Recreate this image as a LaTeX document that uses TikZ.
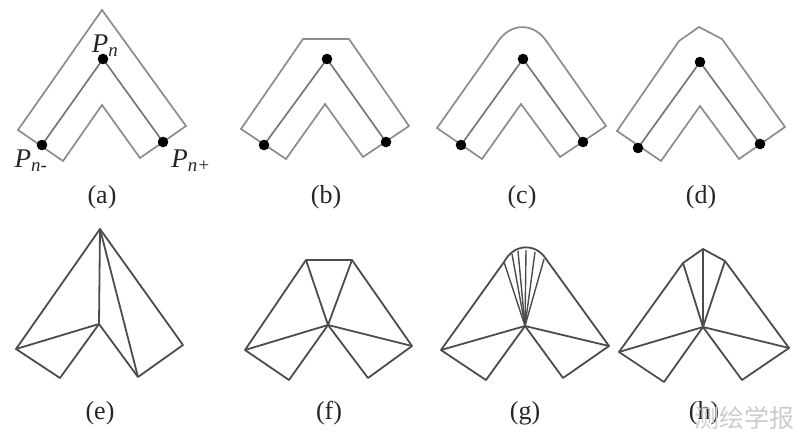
\documentclass[tikz,border=0pt]{standalone}
\usepackage{fontspec}
\setmainfont{Liberation Serif}
\newfontfamily\cjkfont{Noto Sans CJK SC}
\definecolor{outlinegray}{gray}{0.55}
\definecolor{meshgray}{gray}{0.3}
\begin{document}
\begin{tikzpicture}[x=1pt,y=-1pt,
    outline/.style={draw=outlinegray,line width=1.7pt,line join=miter},
    centerline/.style={draw=outlinegray!85!black,line width=1.7pt},
    mesh/.style={draw=meshgray,line width=1.8pt,line join=round},
    sublabel/.style={font=\fontsize{26}{28}\selectfont,text=black!85},
    ptlabel/.style={font=\fontsize{27}{30}\selectfont\itshape,text=black!85,inner sep=0pt}]
    \useasboundingbox (0,0) rectangle (800,442);

    % (a)
    \draw[outline] (18,130) -- (102,10) -- (186,126) -- (140,158) -- (102,105) -- (63,161) -- cycle;
    \draw[centerline] (42,145) -- (103,59) -- (163,142);
    \fill (103,59) circle[radius=5.3pt];
    \fill (42,145) circle[radius=5.3pt];
    \fill (163,142) circle[radius=5.3pt];
    \node[ptlabel] (pn) at (105,46) {P\textsubscript{n}};
    \node[ptlabel] (pnminus) at (31,161) {P\textsubscript{n-}};
    \node[ptlabel] (pnplus) at (191,161) {P\textsubscript{n+}};

    % (b)
    \draw[outline] (241,129) -- (303,39) -- (349,39) -- (409,126) -- (363,157) -- (325,104) -- (286,159) -- cycle;
    \draw[centerline] (264,145) -- (327,59) -- (386,142);
    \fill (327,59) circle[radius=5.3pt];
    \fill (264,145) circle[radius=5.3pt];
    \fill (386,142) circle[radius=5.3pt];

    % (c)
    \draw[outline] (437,128) -- (497,43) .. controls (510,22) and (534,22) .. (547,42) -- (606,126) -- (560,157) -- (521,104) -- (482,159) -- cycle;
    \draw[centerline] (461,145) -- (523,59) -- (583,142);
    \fill (523,59) circle[radius=5.3pt];
    \fill (461,145) circle[radius=5.3pt];
    \fill (583,142) circle[radius=5.3pt];

    % (d)
    \draw[outline] (617,131) -- (679,41) -- (699,27) -- (722,39) -- (785,127) -- (739,159) -- (700,106) -- (661,161) -- cycle;
    \draw[centerline] (638,148) -- (700,62) -- (760,144);
    \fill (700,62) circle[radius=5.3pt];
    \fill (638,148) circle[radius=5.3pt];
    \fill (760,144) circle[radius=5.3pt];

    % (e)
    \draw[mesh] (16,349) -- (100,229) -- (183,345) -- (138,377) -- (99,324) -- (60,378) -- cycle;
    \draw[mesh] (16,349) -- (99,324) -- (100,229) -- (138,377);

    % (f)
    \draw[mesh] (245,350) -- (306,260) -- (352,260) -- (412,346) -- (368,378) -- (328,325) -- (289,380) -- cycle;
    \draw[mesh] (245,350) -- (328,325) -- (412,346);
    \draw[mesh] (306,260) -- (328,325) -- (352,260);

    % (g)
    \draw[mesh] (441,350) -- (504,262) .. controls (514,243) and (536,243) .. (546,259) -- (609,346) -- (563,378) -- (525,326) -- (486,380) -- cycle;
    \draw[mesh] (441,350) -- (525,326) -- (609,346);
    \foreach \x/\y in {504/262,512/254,518/251,526/250,535/252,544/259}
        \draw[meshgray,line width=1.4pt] (525,326) -- (\x,\y);

    % (h)
    \draw[mesh] (619,352) -- (683,263) -- (703,249) -- (725,261) -- (789,348) -- (742,380) -- (703,327) -- (664,382) -- cycle;
    \draw[mesh] (619,352) -- (703,327) -- (789,348);
    \draw[mesh] (683,263) -- (703,327) -- (725,261);
    \draw[mesh] (703,249) -- (703,327);

    \node[sublabel] (a) at (102,197) {(a)};
    \node[sublabel] (b) at (326,197) {(b)};
    \node[sublabel] (c) at (522,197) {(c)};
    \node[sublabel] (d) at (701,197) {(d)};
    \node[sublabel] (e) at (100,413) {(e)};
    \node[sublabel] (f) at (329,413) {(f)};
    \node[sublabel] (g) at (525,413) {(g)};
    \node[sublabel] (h) at (704,413) {(h)};
    \node[font=\fontsize{25}{28}\selectfont\cjkfont,text=black!20,inner sep=0pt] (mark) at (744,418) {测绘学报};
\end{tikzpicture}
\end{document}
